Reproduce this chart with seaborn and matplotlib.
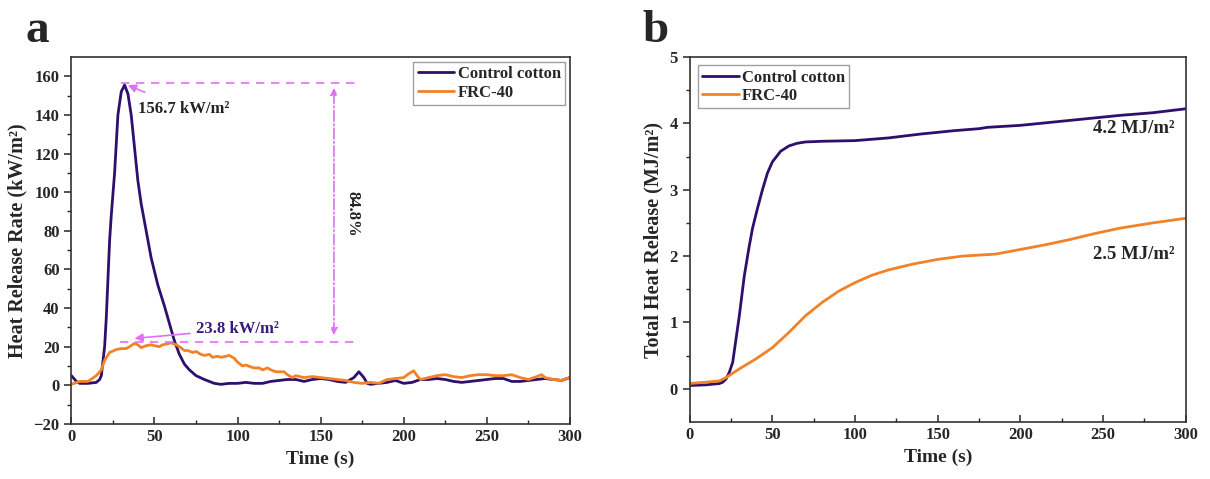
import numpy as np
import pandas as pd
import matplotlib
matplotlib.use("Agg")
import matplotlib.pyplot as plt
import seaborn as sns

# heat release rate (kW/m2)
hrr_t_ctrl = [0, 3, 5, 10, 15, 17, 18, 20, 21, 22, 23, 24, 26, 28, 30, 32, 34, 36, 38, 40,
              42, 45, 48, 52, 56, 59, 62, 65, 68, 71, 75, 80, 86, 90, 95, 100, 105, 110, 115,
              120, 125, 130, 135, 140, 145, 150, 155, 160, 165, 170, 173, 176, 178, 180, 185,
              190, 195, 200, 205, 210, 215, 220, 225, 230, 235, 240, 245, 250, 255, 260, 265,
              270, 275, 280, 285, 290, 295, 300]
hrr_ctrl = [5, 2, 1, 1, 1.5, 3, 5, 20, 35, 55, 75, 88, 110, 140, 152, 155.5, 151, 140, 123, 106,
            94, 80, 66, 52, 41, 32, 23, 16, 11, 8, 5, 3, 1, 0.5, 1, 1, 1.5, 1, 1,
            2, 2.5, 3, 3, 2, 3, 3.5, 3, 2, 1.5, 4, 7, 4, 1, 0.5, 1,
            1.5, 2.5, 1, 1.5, 3, 3, 3.5, 3, 2, 1.5, 2, 2.5, 3, 3.5, 3.5, 2,
            2, 2.5, 3, 3.5, 3, 2.5, 4]
hrr_t_frc = [0, 5, 10, 15, 18, 20, 23, 27, 30, 33, 35, 38, 40, 42, 45, 48, 50, 53, 55, 58,
             60, 63, 65, 68, 70, 73, 75, 78, 80, 83, 85, 88, 90, 93, 95, 98, 100, 103, 105,
             108, 110, 113, 115, 118, 120, 123, 125, 128, 130, 133, 135, 140, 145, 150, 155,
             160, 165, 170, 175, 180, 185, 190, 195, 200, 203, 206, 208, 210, 215, 220, 225,
             230, 235, 240, 245, 250, 255, 260, 265, 270, 275, 280, 283, 285, 290, 295, 300]
hrr_frc = [0.5, 2, 2, 5, 8, 13, 17, 18.5, 19, 19, 20, 21.7, 21, 19.5, 20.5, 21, 20.5, 20, 21, 21.5,
           22, 21, 20, 18, 18, 17, 17.5, 16, 15.5, 16, 14.5, 15, 14.5, 15, 15.5, 14, 12, 10, 10.5,
           9.5, 9, 9, 8, 9, 8, 7, 7, 7, 5.5, 4, 5, 4, 4.5, 4, 3.5,
           3, 2.5, 1.5, 1, 1.5, 1, 3, 3.5, 4, 6, 7.5, 5, 3, 4, 5, 5.5,
           4.5, 4, 5, 5.5, 5.5, 5, 5, 5.5, 4, 3, 4.5, 5.5, 4, 3, 2.5, 4]

# total heat release (MJ/m2)
thr_t_ctrl = [0, 10, 18, 20, 22, 24, 26, 28, 30, 31, 33, 36, 38, 41, 44, 47, 50, 55, 60, 65,
              70, 80, 100, 120, 140, 160, 175, 180, 200, 220, 240, 260, 280, 300]
thr_ctrl = [0.05, 0.06, 0.08, 0.1, 0.15, 0.25, 0.4, 0.75, 1.1, 1.3, 1.7, 2.15, 2.42, 2.72, 3.0,
            3.25, 3.42, 3.58, 3.66, 3.70, 3.72, 3.73, 3.74, 3.78, 3.84, 3.89, 3.92, 3.94, 3.97,
            4.02, 4.07, 4.12, 4.16, 4.22]
thr_t_frc = [0, 10, 18, 22, 30, 40, 50, 60, 70, 80, 90, 100, 110, 120, 135, 150, 165, 185, 200,
             215, 230, 245, 260, 280, 300]
thr_frc = [0.08, 0.1, 0.12, 0.17, 0.3, 0.45, 0.62, 0.85, 1.1, 1.3, 1.47, 1.6, 1.71, 1.79, 1.88,
           1.95, 2.0, 2.03, 2.1, 2.17, 2.25, 2.34, 2.42, 2.5, 2.57]

names = ["Control cotton", "FRC-40"]
colors = {"Control cotton": "#2E0F6B", "FRC-40": "#F28228"}

hrr = pd.concat([
    pd.DataFrame({"t": hrr_t_ctrl, "v": hrr_ctrl, "s": names[0]}),
    pd.DataFrame({"t": hrr_t_frc, "v": hrr_frc, "s": names[1]}),
])
thr = pd.concat([
    pd.DataFrame({"t": thr_t_ctrl, "v": thr_ctrl, "s": names[0]}),
    pd.DataFrame({"t": thr_t_frc, "v": thr_frc, "s": names[1]}),
])

sns.set_style("ticks")
plt.rcParams['font.family'] = ['Liberation Serif', 'DejaVu Serif']
plt.rcParams['font.weight'] = 'bold'
plt.rcParams['axes.labelweight'] = 'bold'

fig = plt.figure(figsize=(12.1, 4.79), dpi=100)
ax1 = fig.add_axes([0.059, 0.115, 0.412, 0.766])
ax2 = fig.add_axes([0.570, 0.119, 0.410, 0.762])

mag = "#E070F5"

# panel a
sns.lineplot(data=hrr, x="t", y="v", hue="s", palette=colors, lw=2, ax=ax1)
ax1.set_xlim(0, 300)
ax1.set_ylim(-20, 170)
ax1.set_xticks(np.arange(0, 301, 50))
ax1.set_xticks(np.arange(25, 300, 50), minor=True)
ax1.set_yticks(np.arange(-20, 161, 20))
ax1.set_yticks(np.arange(-10, 170, 20), minor=True)
ax1.set_xlabel("Time (s)", fontsize=14)
ax1.set_ylabel("Heat Release Rate (kW/m²)", fontsize=14.5)

peak, low = 156.7, 22.6
ax1.plot([30, 171], [peak, peak], ls=(0, (5, 4)), color=mag, lw=1.2)
ax1.plot([29, 171], [low, low], ls=(0, (5, 4)), color=mag, lw=1.2)
ax1.annotate("", xy=(158, 154), xytext=(158, 26),
             arrowprops=dict(arrowstyle="<|-|>", color=mag, lw=1.2, ls="-.",
                             shrinkA=0, shrinkB=0))
ax1.text(169, 89, "84.8%", rotation=-90, ha="center", va="center", fontsize=12,
         fontweight="bold", color="#222222")
ax1.annotate("156.7 kW/m²", xy=(34, 155.5), xytext=(40, 143), fontsize=12,
             fontweight="bold", color="#222222", va="center",
             arrowprops=dict(arrowstyle="-|>", color=mag, lw=1.2, shrinkA=10, shrinkB=0))
ax1.annotate("23.8 kW/m²", xy=(38, 24.3), xytext=(75, 29), fontsize=12,
             fontweight="bold", color="#3A1A7A", va="center",
             arrowprops=dict(arrowstyle="-|>", color=mag, lw=1.2, shrinkA=2, shrinkB=0))
ax1.legend(title=None, loc="upper right", fontsize=12, frameon=True, fancybox=False,
           edgecolor="#888888", handlelength=2.2, borderpad=0.25, labelspacing=0.15,
           handletextpad=0.2, borderaxespad=0.3)

# panel b
sns.lineplot(data=thr, x="t", y="v", hue="s", palette=colors, lw=2, ax=ax2)
ax2.set_xlim(0, 300)
ax2.set_ylim(-0.5, 5)
ax2.set_xticks(np.arange(0, 301, 50))
ax2.set_xticks(np.arange(25, 300, 50), minor=True)
ax2.set_yticks(np.arange(0, 5.1, 1))
ax2.set_yticks(np.arange(0.5, 5, 1), minor=True)
ax2.set_xlabel("Time (s)", fontsize=14)
ax2.set_ylabel("Total Heat Release (MJ/m²)", fontsize=14.5)
ax2.text(293, 3.92, "4.2 MJ/m²", ha="right", va="center", fontsize=13.5, fontweight="bold")
ax2.text(293, 2.03, "2.5 MJ/m²", ha="right", va="center", fontsize=13.5, fontweight="bold")
ax2.legend(title=None, loc="upper left", fontsize=12, frameon=True, fancybox=False,
           edgecolor="#888888", handlelength=2.2, borderpad=0.25, labelspacing=0.15,
           handletextpad=0.2, borderaxespad=0.5)

for ax in (ax1, ax2):
    for sp in ax.spines.values():
        sp.set_linewidth(1.2)
        sp.set_color("#333333")
    ax.tick_params(axis="x", which="both", direction="in", labelsize=12)
    ax.tick_params(axis="y", which="both", direction="out", labelsize=12)
    ax.tick_params(which="major", length=5, width=1.1)
    ax.tick_params(which="minor", length=3, width=1)
    for lab in ax.get_xticklabels() + ax.get_yticklabels():
        lab.set_fontweight("bold")

fig.text(0.021, 0.935, "a", fontsize=34, fontweight="bold", va="center")
fig.text(0.531, 0.935, "b", fontsize=34, fontweight="bold", va="center")

fig.savefig("out.png", dpi=100)
